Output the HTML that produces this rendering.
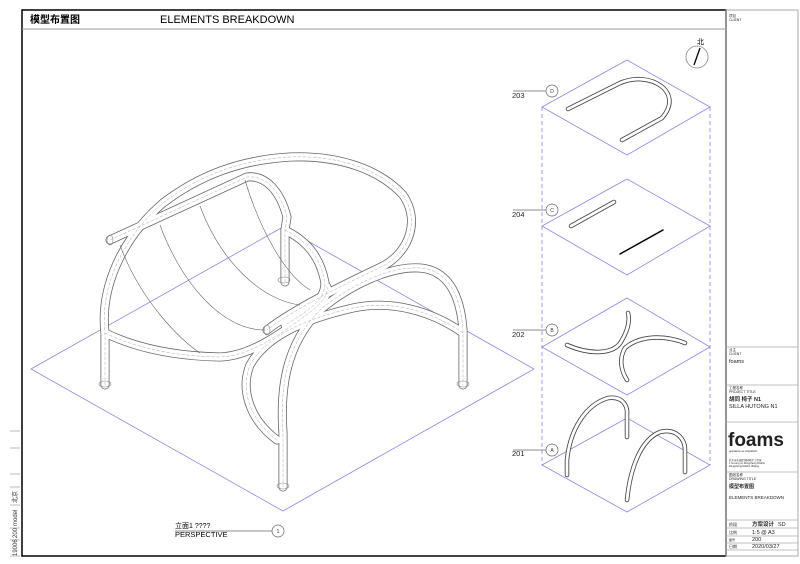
<!DOCTYPE html>
<html><head><meta charset="utf-8"><style>
body{margin:0;background:#fff;}
svg{display:block;font-family:"Liberation Sans","Noto Sans CJK SC",sans-serif;}
</style></head><body>
<svg width="800" height="564" viewBox="0 0 800 564" xmlns="http://www.w3.org/2000/svg">
<defs>
<g id="tubes">
<path d="M105,385 L105,333 C100,290 120,240 163,203 C200,175 240,160 290,157 C340,155 380,170 403,195 C420,220 410,250 385,265 C350,282 300,305 267,330"/>
<path d="M110,240 L247,177 C265,175 280,190 287,217 L285,230 L285,282"/>
<path d="M285,230 C305,240 320,255 325,283 C325,300 310,310 285,325"/>
<path d="M283,487 L283,433 C280,390 285,345 320,310 C350,285 390,266 420,268 C445,270 460,290 463,330 L463,385"/>
<path d="M277,440 C250,420 240,390 250,365 C265,338 300,320 353,308 C390,300 430,310 463,333"/>
<path d="M105,333 C130,345 165,356 220,357 C250,356 280,335 313,310 C325,300 328,292 327,287"/>
</g>
</defs>
<rect x="22" y="10" width="704" height="546" fill="none" stroke="#000" stroke-width="1.5"/>
<line x1="22" y1="29" x2="726" y2="29" stroke="#999" stroke-width="1"/>
<rect x="726" y="10" width="72" height="546" fill="none" stroke="#aaa" stroke-width="1"/>
<text x="30" y="23" font-size="10" font-weight="bold">模型布置图</text>
<text x="160" y="23" font-size="11">ELEMENTS BREAKDOWN</text>
<g stroke="#aaa" stroke-width="0.8">
<line x1="10" y1="431" x2="20" y2="431"/><line x1="10" y1="448" x2="20" y2="448"/>
<line x1="10" y1="474" x2="20" y2="474"/><line x1="10" y1="487" x2="20" y2="487"/>
<line x1="10" y1="505" x2="20" y2="505"/><line x1="10" y1="528" x2="20" y2="528"/>
<line x1="10" y1="540" x2="20" y2="540"/><line x1="10" y1="556" x2="20" y2="556"/>
</g>
<g font-size="6" fill="#333">
<text transform="translate(17,503) rotate(-90)">北京</text>
<text transform="translate(17,526) rotate(-90)">model</text>
<text transform="translate(17,538) rotate(-90)">200</text>
<text transform="translate(17,556) rotate(-90)">19006</text>
</g>
<circle cx="697" cy="57" r="11" fill="none" stroke="#888" stroke-width="0.8"/>
<line x1="694" y1="65" x2="700" y2="48" stroke="#000" stroke-width="1.3"/>
<text x="697" y="44" font-size="7">北</text>
<polygon points="31,369 283,227 534,369 283,511" fill="none" stroke="#8a86e8" stroke-width="0.8"/>
<g fill="none" stroke="#8a86e8" stroke-width="0.8">
<polygon points="627,60 710,107 627,155 542,107"/>
<polygon points="627,179 710,226 627,275 542,226"/>
<polygon points="627,298 710,347 627,395 542,347"/>
<polygon points="627,418 710,465 627,512 542,465"/>
<line x1="542" y1="107" x2="542" y2="465" stroke-dasharray="4,3"/>
<line x1="710" y1="107" x2="710" y2="465" stroke-dasharray="4,3"/>
</g>
<g font-size="7.5" fill="#222">
<text x="512" y="98">203</text><text x="512" y="217">204</text>
<text x="512" y="337">202</text><text x="512" y="456">201</text>
</g>
<g fill="#fff" stroke="#666" stroke-width="0.7">
<line x1="513" y1="91" x2="546" y2="91"/><circle cx="552" cy="91" r="6"/>
<line x1="513" y1="210" x2="546" y2="210"/><circle cx="552" cy="210" r="6"/>
<line x1="513" y1="330" x2="546" y2="330"/><circle cx="552" cy="330" r="6"/>
<line x1="513" y1="450" x2="546" y2="450"/><circle cx="552" cy="450" r="6"/>
<line x1="175" y1="531" x2="272" y2="531"/><circle cx="278" cy="531" r="6"/>
</g>
<g font-size="5" text-anchor="middle" fill="#333">
<text x="552" y="93">D</text><text x="552" y="212">C</text><text x="552" y="332">B</text><text x="552" y="452">A</text><text x="278" y="533">1</text>
</g>
<text x="175" y="528" font-size="7">立面1 ????</text>
<text x="175" y="537" font-size="7.5">PERSPECTIVE</text>
<g fill="none" stroke-linecap="round">
<use href="#tubes" stroke="#666" stroke-width="9"/>
<use href="#tubes" stroke="#fff" stroke-width="7.4"/>
<use href="#tubes" stroke="#aaa" stroke-width="0.5" stroke-dasharray="3,2"/>
</g>
<g fill="none" stroke="#666" stroke-width="0.6">
<path d="M120,245 C140,300 180,340 200,353"/>
<path d="M160,225 C180,280 220,330 265,330"/>
<path d="M200,206 C220,260 260,300 300,305"/>
<path d="M245,180 C260,230 285,275 310,290"/>
<g stroke="#888">
<ellipse cx="105" cy="384" rx="6" ry="3"/><ellipse cx="283" cy="486" rx="6" ry="3"/>
<ellipse cx="463" cy="384" rx="6" ry="3"/><ellipse cx="284" cy="280" rx="6" ry="3"/>
<ellipse cx="110" cy="240" rx="3" ry="5"/><ellipse cx="267" cy="330" rx="3" ry="5"/>
</g>
</g>
<g fill="none" stroke-linecap="round">
<g stroke="#444" stroke-width="4.5">
<path d="M568,109 L620,83 C650,70 685,92 662,118 L622,140"/>
<path d="M571,226 L614,202"/>
<path d="M567,345 C590,355 615,355 622,340 C628,330 630,320 628,313"/>
<path d="M685,343 C665,335 640,335 625,348 C618,360 622,372 627,380"/>
<path d="M567,475 L567,460 C570,430 585,405 608,398 C622,396 628,405 627,415 L627,437"/>
<path d="M627,500 C630,470 640,440 660,432 C675,428 685,438 685,450 L685,472"/>
</g>
<g stroke="#fff" stroke-width="2.8">
<path d="M568,109 L620,83 C650,70 685,92 662,118 L622,140"/>
<path d="M571,226 L614,202"/>
<path d="M567,345 C590,355 615,355 622,340 C628,330 630,320 628,313"/>
<path d="M685,343 C665,335 640,335 625,348 C618,360 622,372 627,380"/>
<path d="M567,475 L567,460 C570,430 585,405 608,398 C622,396 628,405 627,415 L627,437"/>
<path d="M627,500 C630,470 640,440 660,432 C675,428 685,438 685,450 L685,472"/>
</g>
<line x1="620" y1="254" x2="663" y2="230" stroke="#000" stroke-width="1.5"/>
</g>
<g stroke="#aaa" stroke-width="0.8">
<line x1="726" y1="347" x2="798" y2="347"/>
<line x1="726" y1="385" x2="798" y2="385"/>
<line x1="726" y1="422" x2="798" y2="422"/>
<line x1="726" y1="472" x2="798" y2="472"/>
<line x1="726" y1="520" x2="798" y2="520"/>
<line x1="726" y1="528" x2="798" y2="528"/>
<line x1="726" y1="536" x2="798" y2="536"/>
<line x1="726" y1="543" x2="798" y2="543"/>
<line x1="726" y1="550" x2="798" y2="550"/>
</g>
<g fill="#222">
<text x="729" y="17" font-size="3.5">项目</text><text x="729" y="21" font-size="3.5">CLIENT</text>
<text x="729" y="351" font-size="3.5">业主</text><text x="729" y="355" font-size="3.5">CLIENT</text>
<text x="729" y="363" font-size="5.5">foams</text>
<text x="729" y="389" font-size="3.5">工程名称</text><text x="729" y="393" font-size="3.5">PROJECT TITLE</text>
<text x="729" y="401" font-size="5.5" font-weight="bold">胡同 椅子 N1</text>
<text x="729" y="408" font-size="5.5">SILLA HUTONG N1</text>
<text x="728" y="446" font-size="19" font-weight="bold">foams</text>
<text x="729" y="452" font-size="2.5">operations as inspirations</text>
<text x="729" y="461" font-size="2.5">北京市东城区胡同椅子工作室</text>
<text x="729" y="464" font-size="2.5">1 hu tong rd, Dongcheng District</text>
<text x="729" y="467" font-size="2.5">Dongcheng District, Beijing</text>
<text x="729" y="476" font-size="3.5">图纸名称</text><text x="729" y="480" font-size="3.5">DRAWING TITLE</text>
<text x="729" y="488" font-size="5" font-weight="bold">模型布置图</text>
<text x="729" y="499" font-size="4.5">ELEMENTS BREAKDOWN</text>
<text x="729" y="526" font-size="4">阶段</text><text x="752" y="526" font-size="5.5" font-weight="bold">方案设计</text><text x="778" y="526" font-size="5.5">SD</text>
<text x="729" y="534" font-size="4">比例</text><text x="752" y="534" font-size="5.5">1:5 @ A3</text>
<text x="729" y="541" font-size="3">图号</text><text x="752" y="541" font-size="5.5">200</text>
<text x="729" y="548" font-size="4">日期</text><text x="752" y="548" font-size="5.5">2020/03/27</text>
</g>
</svg>
</body></html>
